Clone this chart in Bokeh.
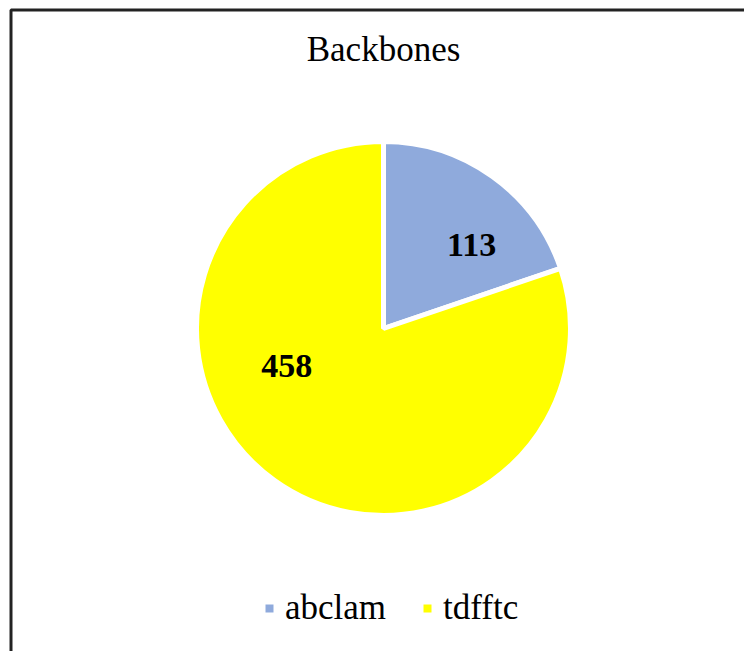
import math
from bokeh.plotting import figure
from bokeh.models import ColumnDataSource, Range1d, Legend, LegendItem, Label
from bokeh.core.properties import value
from bokeh.embed import file_html
from bokeh.resources import INLINE

# ---- data ----
title_text = "Backbones"
categories = ["abclam", "tdfftc"]
counts = [113, 458]
colors = ["#8FAADC", "#FFFF00"]

# ---- layout / style ----
W, H = 744, 651
CX, CY = 383, 323          # pie centre (canvas px, y up)
R = 187                    # pie radius
SEP = 5                    # white separator width
label_angle_deg = [42.6, 202.4]
label_r_frac = [0.64, 0.56]
SERIF = "'Liberation Serif'"
BORDER_X, BORDER_Y = 10.5, H - 9.5

total = sum(counts)
starts, ends, lx, ly, txt = [], [], [], [], []
cum = 0.0
for i, v in enumerate(counts):
    a0 = math.pi / 2 - 2 * math.pi * cum / total
    cum += v
    a1 = math.pi / 2 - 2 * math.pi * cum / total
    starts.append(a0)
    ends.append(a1)
    la = math.radians(label_angle_deg[i])
    lx.append(CX + R * label_r_frac[i] * math.cos(la))
    ly.append(CY + R * label_r_frac[i] * math.sin(la))
    txt.append(str(v))

src = ColumnDataSource(dict(name=categories, value=counts, start=starts, end=ends,
                            color=colors, lx=lx, ly=ly, txt=txt))

p = figure(width=W, height=H, output_backend="svg", toolbar_location=None,
           x_range=Range1d(0, W), y_range=Range1d(0, H),
           x_axis_type=None, y_axis_type=None, min_border=0,
           background_fill_color="white", border_fill_color="white")
p.grid.visible = False
p.outline_line_color = None

wr = p.wedge(x=CX, y=CY, radius=R, start_angle="start", end_angle="end",
             direction="clock", fill_color="color", line_color="white",
             line_width=SEP, source=src)

p.text(x="lx", y="ly", text="txt", source=src, text_align="center",
       text_baseline="middle", text_font=value(SERIF), text_font_style="bold",
       text_font_size="34px", text_color="black", y_offset=-2)

p.add_layout(Label(x=CX, y=H - 49, text=title_text, text_align="center",
                   text_baseline="alphabetic", text_font=SERIF,
                   text_font_size="35px", text_color="black"))

# chart-area border (top and left edges visible in reference)
p.line(x=[BORDER_X, BORDER_X, W + 5], y=[-5, BORDER_Y, BORDER_Y],
       line_color="#222222", line_width=3)

# legend swatches (degenerate quads coloured like the slices)
swatches = []
for i, c in enumerate(categories):
    swatches.append(p.quad(left=[0], right=[0], top=[0], bottom=[0],
                           fill_color=colors[i], line_color=None))

legend = Legend(items=[LegendItem(label=categories[i], renderers=[swatches[i]])
                       for i in range(len(categories))],
                orientation="horizontal", location=(264, 23),
                glyph_width=10, glyph_height=10, label_standoff=11, spacing=36,
                padding=0, margin=0, border_line_color=None,
                background_fill_alpha=0, label_text_font=SERIF,
                label_text_font_size="35px", label_text_color="black")
p.add_layout(legend, "center")

open("out.html", "w").write(file_html(p, INLINE))
